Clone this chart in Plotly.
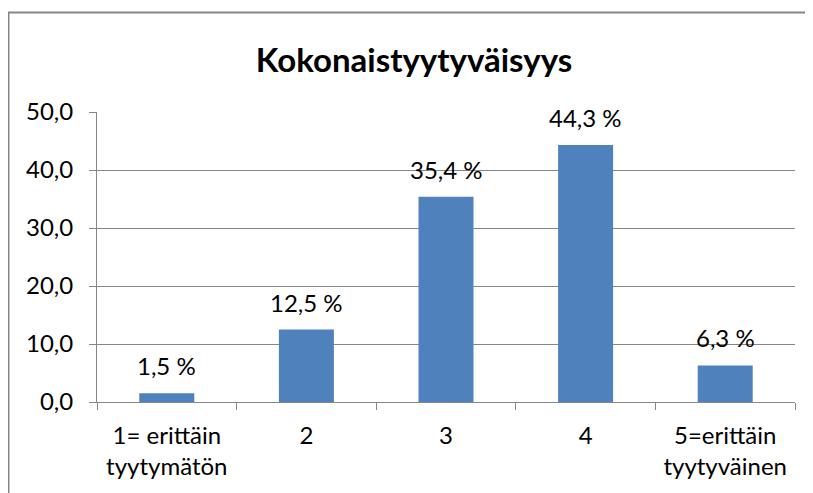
import plotly.graph_objects as go

categories = ["1= erittäin<br>tyytymätön", "2", "3", "4", "5=erittäin<br>tyytyväinen"]
values = [1.5, 12.5, 35.4, 44.3, 6.3]
y_ticks = [0, 10, 20, 30, 40, 50]
title_text = "Kokonaistyytyväisyys"

# page body has an 8px default margin, so the figure is 8px smaller
W, H = 805, 485
L, R, T, B = 89, 18, 104, 91
pw, ph = W - L - R, H - T - B

def px_to_paper_x(px):
    return (px - L) / pw

def px_to_paper_y(py):
    return (H - B - py) / ph

font_family = "Lato, Open Sans, sans-serif"
grid_col = "#868686"

fig = go.Figure()
fig.add_trace(go.Bar(
    x=categories, y=values,
    marker=dict(color="#4F81BD", line=dict(width=0)),
    hoverinfo="skip",
))

annotations = []
for i, v in enumerate(values):
    annotations.append(dict(
        x=i, y=v, xref="x", yref="y",
        text=f"{v:.1f}".replace(".", ",") + " %",
        showarrow=False, yanchor="bottom", yshift=11,
        font=dict(family=font_family, size=24, color="#000000"),
    ))

shapes = [
    dict(type="line", xref="paper", yref="paper",
         x0=px_to_paper_x(0.5), x1=px_to_paper_x(0.5),
         y0=px_to_paper_y(4), y1=px_to_paper_y(500),
         line=dict(color=grid_col, width=2)),
    dict(type="line", xref="paper", yref="paper",
         x0=px_to_paper_x(0), x1=px_to_paper_x(820),
         y0=px_to_paper_y(4.5), y1=px_to_paper_y(4.5),
         line=dict(color=grid_col, width=2)),
]

fig.update_layout(
    width=W, height=H,
    margin=dict(l=L, r=R, t=T, b=B),
    paper_bgcolor="white", plot_bgcolor="white",
    separators=", ",
    showlegend=False,
    bargap=0.606,
    title=dict(text=f"<b>{title_text}</b>", x=(414 - 8) / W, xanchor="center",
               y=1 - 52 / H, yanchor="middle", yref="container",
               font=dict(family=font_family, size=33, color="#000000")),
    font=dict(family=font_family, size=24, color="#000000"),
    annotations=annotations,
    shapes=shapes,
)
fig.update_xaxes(
    showline=True, linecolor=grid_col, linewidth=1,
    ticks="outside", tickson="boundaries", ticklen=7, tickcolor=grid_col,
    showgrid=False, tickfont=dict(size=24), ticklabelstandoff=12,
    fixedrange=True, automargin=False,
)
fig.update_yaxes(
    range=[0, 50], tickvals=y_ticks, tickformat=".1f",
    showline=True, linecolor=grid_col, linewidth=1,
    ticks="outside", ticklen=7, tickcolor=grid_col,
    showgrid=True, gridcolor=grid_col, gridwidth=1,
    zeroline=False, tickfont=dict(size=24), ticklabelstandoff=11,
    fixedrange=True, automargin=False,
)

fig.write_html("out.html")
